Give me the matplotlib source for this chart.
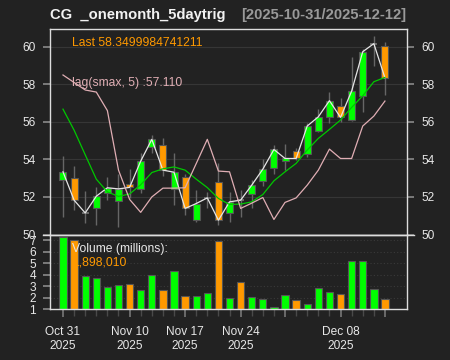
import matplotlib
matplotlib.use('Agg')
import matplotlib.pyplot as plt
from matplotlib.lines import Line2D

plt.rcParams['font.family'] = ['Liberation Sans', 'DejaVu Sans']

# ---- data ----
dates = ['2025-10-31', '2025-11-03', '2025-11-04', '2025-11-05', '2025-11-06',
         '2025-11-07', '2025-11-10', '2025-11-11', '2025-11-12', '2025-11-13',
         '2025-11-14', '2025-11-17', '2025-11-18', '2025-11-19', '2025-11-20',
         '2025-11-21', '2025-11-24', '2025-11-25', '2025-11-26', '2025-11-28',
         '2025-12-01', '2025-12-02', '2025-12-03', '2025-12-04', '2025-12-05',
         '2025-12-08', '2025-12-09', '2025-12-10', '2025-12-11', '2025-12-12']
opens = [52.88, 53.02, 51.15, 51.39, 52.22, 51.78, 52.67, 52.45, 54.67, 54.75,
         52.45, 53.07, 50.76, 51.95, 52.81, 51.17, 51.85, 52.15, 52.84, 53.52,
         53.89, 54.46, 54.27, 55.51, 56.27, 56.83, 56.10, 57.39, 60.17, 60.06]
highs = [54.18, 53.64, 52.31, 52.54, 53.07, 53.22, 53.47, 54.33, 55.31, 55.15,
         54.35, 53.25, 52.36, 52.27, 53.79, 52.27, 52.36, 52.90, 54.00, 54.76,
         54.82, 54.60, 55.92, 56.70, 57.61, 57.27, 59.44, 59.88, 60.59, 60.27]
lows = [50.94, 51.30, 50.59, 50.53, 51.83, 50.41, 51.92, 52.20, 54.32, 53.11,
        51.56, 51.03, 50.67, 51.40, 50.50, 50.67, 50.94, 51.39, 52.59, 53.25,
        53.43, 53.95, 54.14, 55.46, 55.94, 55.97, 56.06, 56.54, 58.96, 57.43]
closes = [53.34, 51.83, 51.15, 52.04, 52.49, 52.43, 52.51, 53.91, 55.07, 53.43,
          53.32, 51.39, 51.65, 51.95, 50.76, 51.74, 51.83, 52.63, 53.48, 54.53,
          54.05, 54.05, 55.78, 56.27, 57.13, 56.24, 57.64, 59.74, 60.17, 58.35]
volumes = [7.23, 7.00, 3.90, 3.68, 2.90, 3.10, 3.16, 2.64, 3.97, 2.64,
           4.29, 2.12, 2.14, 2.44, 6.90, 2.00, 3.39, 2.09, 1.87, 1.23,
           2.21, 1.83, 1.46, 2.82, 2.53, 2.32, 5.18, 5.20, 2.73, 1.898]
trig = [56.68, 55.56, 54.25, 52.95, 52.27, 52.03, 52.16, 52.65, 53.30, 53.50,
        53.60, 53.43, 52.95, 52.50, 51.92, 51.60, 51.62, 51.74, 52.13, 52.86,
        53.34, 53.79, 54.50, 55.12, 55.60, 56.10, 56.77, 57.39, 58.14, 58.37]
lag_smax = [58.50, 58.10, 57.70, 57.59, 56.60, 53.43, 51.87, 51.18, 52.00, 52.47,
            52.47, 52.49, 53.78, 55.07, 53.38, 53.34, 51.39, 51.67, 51.97, 50.80,
            51.71, 51.95, 52.63, 53.43, 54.55, 54.05, 54.05, 55.78, 56.31, 57.11]
tick_idx = [0, 6, 11, 16, 20, 25, 29]
tick_labels = ['Oct 31\n2025', 'Nov 10\n2025', 'Nov 17\n2025', 'Nov 24\n2025',
               '', 'Dec 08\n2025', '']
price_ticks = [50, 52, 54, 56, 58, 60]
vol_ticks = [1, 2, 3, 4, 5, 6, 7]

BG = '#222222'
UP = '#00ff00'
DN = '#ff9900'
FRAME = '#dddddd'
TICK = '#8a8a8a'
W, H = 450.0, 360.0

def fx(px):
    return px / W

def fy(py):
    return 1 - py / H

fig = plt.figure(figsize=(4.5, 3.6), dpi=100, facecolor=BG)

left, right = 50, 406.7
top, mid, bottom = 29, 234.5, 309.3
ax = fig.add_axes([fx(left), fy(mid), fx(right - left), (mid - top) / H], facecolor=BG)
axv = fig.add_axes([fx(left), fy(bottom), fx(right - left), (bottom - mid) / H],
                   facecolor=BG, sharex=ax)

n = len(closes)
x = list(range(n))
bw = 0.63

# price grid
for p in price_ticks:
    ax.axhline(p, color='#363636', lw=0.8, zorder=0)

# candles
for i in x:
    o, h, l, c = opens[i], highs[i], lows[i], closes[i]
    ax.vlines(i, l, h, color='#666666', lw=1, zorder=1)
    if abs(c - o) < 0.03:
        ax.hlines(c, i - bw / 2, i + bw / 2, color='#777777', lw=1.2, zorder=2)
    else:
        col = UP if c >= o else DN
        ax.bar(i, abs(c - o), bottom=min(o, c), width=bw, color=col,
               edgecolor='#555555', linewidth=0.8, zorder=2)

ax.plot(x, closes, color='#e6e6e6', lw=0.9, zorder=3)
ax.plot(x, trig, color='#00c800', lw=0.9, zorder=3)
ax.plot(x, lag_smax, color='#e0aeb4', lw=0.9, zorder=3)

ax.set_xlim(-1.17, 30.96)
ax.set_ylim(50.0, 60.95)
ax.set_yticks(price_ticks)
ax.set_yticklabels([str(p) for p in price_ticks])
ax.tick_params(axis='y', left=True, right=True, labelleft=True, labelright=True,
               length=5, width=1.2, color=TICK, labelcolor='#e8e8e8',
               labelsize=8.6, pad=5.5)
ax.tick_params(axis='x', bottom=False, labelbottom=False)
for s in ['top', 'left', 'right', 'bottom']:
    ax.spines[s].set_color(FRAME)
    ax.spines[s].set_linewidth(1)

# volume panel
for v in vol_ticks:
    axv.axhline(v, color='#3a3a3a', lw=0.8, ls=(0, (1, 2)), zorder=0)
vcols = [UP if closes[i] >= opens[i] else DN for i in x]
axv.bar(x, [v - 1.0 for v in volumes], bottom=1.0, width=0.66, color=vcols,
        edgecolor='#555555', linewidth=0.8, zorder=2)
axv.set_ylim(1.0, 7.48)
axv.set_yticks(vol_ticks)
axv.set_yticklabels([str(v) for v in vol_ticks])
axv.tick_params(axis='y', left=True, right=False, labelleft=True,
                length=5, width=1.2, color=TICK, labelcolor='#e8e8e8',
                labelsize=8.6, pad=5)
axv.set_xticks(tick_idx)
axv.set_xticklabels(tick_labels)
axv.set_xticks(x, minor=True)
axv.tick_params(axis='x', which='major', length=6, width=1.2, color='#777777',
                labelcolor='#e8e8e8', labelsize=8.6, pad=6)
axv.tick_params(axis='x', which='minor', length=5, width=1.0, color='#4a4a4a')
for t in axv.get_xticklabels():
    t.set_linespacing(1.25)
for s in ['top', 'left', 'right', 'bottom']:
    axv.spines[s].set_color(FRAME)
    axv.spines[s].set_linewidth(1)

# separator extends over the 50 ticks
fig.add_artist(Line2D([fx(43), fx(413.5)], [fy(mid), fy(mid)], color=FRAME, lw=1))

# texts
fig.text(fx(50), fy(15), 'CG  _onemonth_5daytrig', color='#f2f2f2',
         fontsize=10.6, fontweight='bold', va='center', ha='left')
fig.text(fx(406), fy(15), '[2025-10-31/2025-12-12]', color='#9a9a9a',
         fontsize=10.6, fontweight='bold', va='center', ha='right')
fig.text(fx(72), fy(42.7), 'Last 58.3499984741211', color=DN, fontsize=8.7,
         va='center', ha='left')
fig.text(fx(72), fy(83.3), 'lag(smax, 5) :57.110', color='#e0aeb4', fontsize=8.7,
         va='center', ha='left')
fig.text(fx(72), fy(249), 'Volume (millions):', color='#e8e8e8', fontsize=8.7,
         va='center', ha='left')
fig.text(fx(72), fy(262.7), '1,898,010', color=DN, fontsize=8.7,
         va='center', ha='left')

fig.savefig('out.png', dpi=100, facecolor=BG)
